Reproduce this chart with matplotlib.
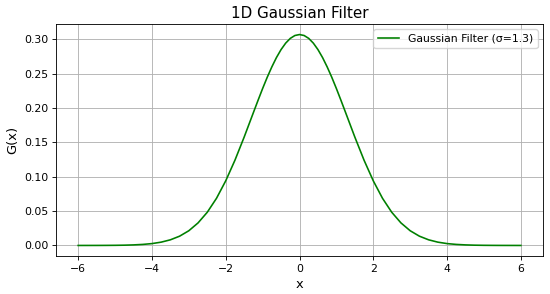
import matplotlib.pyplot as plt
import numpy as np

# values (symmetric about 0), denser near the peak
x_right = [0.0, 0.125, 0.25, 0.375, 0.5, 0.625, 0.75, 0.875, 1.0, 1.125, 1.25,
           1.5, 1.75, 2.0, 2.25, 2.5, 2.75, 3.0, 3.25, 3.5, 3.75, 4.0, 4.25,
           4.5, 4.75, 5.0, 5.25, 5.5, 5.75, 6.0]
g_right = [0.3069, 0.3055, 0.3013, 0.2944, 0.2850, 0.2734, 0.2598, 0.2447,
           0.2283, 0.2110, 0.1933, 0.1577, 0.1240, 0.0940, 0.0686, 0.0483,
           0.0328, 0.0214, 0.0135, 0.0082, 0.0048, 0.0027, 0.0015, 0.0008,
           0.0004, 0.0002, 0.0001, 0.00004, 0.00002, 0.0]

x = np.concatenate([-np.array(x_right[:0:-1]), x_right])
g = np.concatenate([g_right[:0:-1], g_right])

s = 0.78  # everything looks scaled down from the default sizes
plt.rcParams.update({
    "axes.linewidth": 0.8 * s,
    "xtick.major.width": 0.8 * s,
    "ytick.major.width": 0.8 * s,
    "xtick.major.size": 3.5 * s,
    "ytick.major.size": 3.5 * s,
    "grid.linewidth": 0.8 * s,
})

fig = plt.figure(figsize=(5.5, 2.94), dpi=100)
ax = fig.add_axes([56 / 550, 1 - 256 / 294, (543 - 56) / 550, (256 - 24) / 294])
ax.plot(x, g, color="green", lw=1.5 * s, label="Gaussian Filter (σ=1.3)")
ax.set_title("1D Gaussian Filter", fontsize=14 * s, pad=6 * s)
ax.set_xlabel("x", fontsize=12 * s, labelpad=4 * s)
ax.set_ylabel("G(x)", fontsize=12 * s, labelpad=4 * s)
ax.tick_params(labelsize=10 * s, pad=3.5 * s)
ax.grid(True)
ax.legend(loc="upper right", fontsize=10 * s)
fig.savefig("out.png")
